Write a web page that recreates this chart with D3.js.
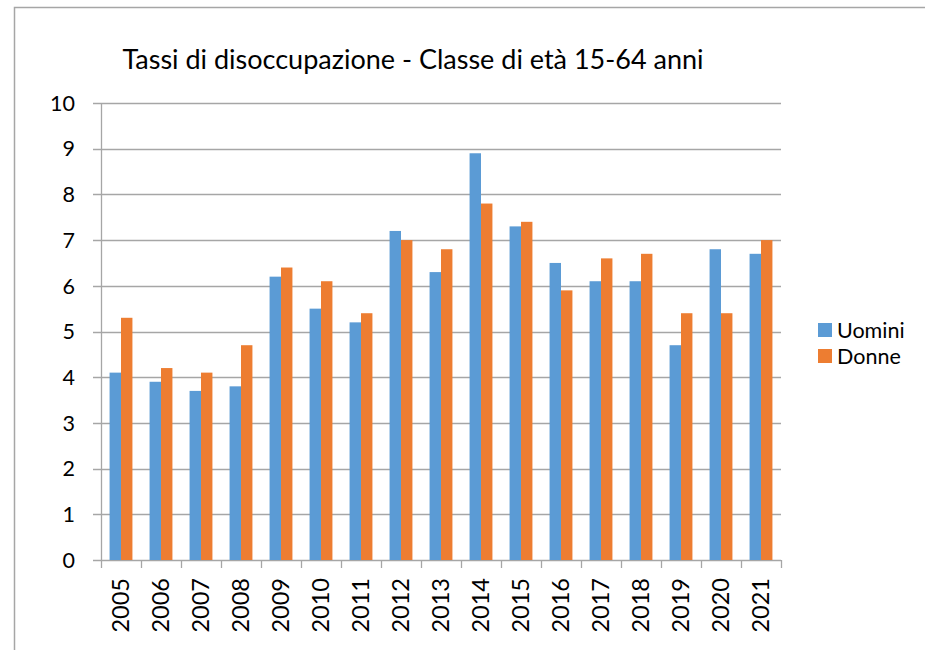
<!DOCTYPE html>
<html>
<head>
<meta charset="utf-8">
<script src="https://cdn.jsdelivr.net/npm/d3@7"></script>
<style>
  body { margin: 0; background: #fff; }
  text { font-family: Lato, "Open Sans", sans-serif; fill: #000; }
</style>
</head>
<body>
<svg id="chart" width="925" height="650"></svg>
<script>
const years = ['2005','2006','2007','2008','2009','2010','2011','2012','2013','2014','2015','2016','2017','2018','2019','2020','2021'];
const uomini = [4.1, 3.9, 3.7, 3.8, 6.2, 5.5, 5.2, 7.2, 6.3, 8.9, 7.3, 6.5, 6.1, 6.1, 4.7, 6.8, 6.7];
const donne  = [5.3, 4.2, 4.1, 4.7, 6.4, 6.1, 5.4, 7.0, 6.8, 7.8, 7.4, 5.9, 6.6, 6.7, 5.4, 5.4, 7.0];
const seriesNames = ['Uomini', 'Donne'];
const yTicks = [0, 1, 2, 3, 4, 5, 6, 7, 8, 9, 10];

const colors = { Uomini: '#5b9bd5', Donne: '#ed7d31' };
const gridColor = '#a6a6a6';

const svg = d3.select('#chart');

// chart frame (only top and left edges show in the picture)
svg.append('path')
  .attr('d', 'M14.5,650 L14.5,7.5 L925,7.5')
  .attr('fill', 'none')
  .attr('stroke', '#a6a6a6')
  .attr('stroke-width', 1.5);

const xScale = d3.scaleBand()
  .domain(years)
  .range([101, 781]);

const inner = d3.scaleBand()
  .domain(seriesNames)
  .range([0, xScale.bandwidth()])
  .paddingOuter(0.75);

const yScale = d3.scaleLinear()
  .domain([0, 10])
  .range([560, 103]);

// gridlines + y ticks
svg.append('g')
  .selectAll('line')
  .data(yTicks)
  .enter()
  .append('line')
  .attr('x1', 93)
  .attr('x2', 781)
  .attr('y1', d => Math.round(yScale(d)) + 0.5)
  .attr('y2', d => Math.round(yScale(d)) + 0.5)
  .attr('stroke', gridColor)
  .attr('stroke-width', 1.3);

svg.append('g')
  .selectAll('text')
  .data(yTicks)
  .enter()
  .append('text')
  .attr('x', 75)
  .attr('y', d => yScale(d))
  .attr('dy', '0.36em')
  .attr('text-anchor', 'end')
  .style('font-size', '21.5px')
  .text(d => d);

// bars
const rows = years.map((y, i) => ({ year: y, Uomini: uomini[i], Donne: donne[i] }));

svg.append('g')
  .selectAll('g')
  .data(rows)
  .enter()
  .append('g')
  .attr('transform', d => `translate(${xScale(d.year)},0)`)
  .selectAll('rect')
  .data(d => seriesNames.map(s => ({ key: s, value: d[s] })))
  .enter()
  .append('rect')
  .attr('x', d => inner(d.key))
  .attr('width', inner.bandwidth())
  .attr('y', d => yScale(d.value))
  .attr('height', d => yScale(0) - yScale(d.value))
  .attr('fill', d => colors[d.key]);

// y axis line
svg.append('line')
  .attr('x1', 101.5).attr('x2', 101.5)
  .attr('y1', 103).attr('y2', 561)
  .attr('stroke', gridColor)
  .attr('stroke-width', 1.3);

// x axis ticks at band edges
const edges = years.map(y => xScale(y)).concat([xScale.range()[1]]);
svg.append('g')
  .selectAll('line')
  .data(edges)
  .enter()
  .append('line')
  .attr('x1', d => Math.round(d) + 0.5)
  .attr('x2', d => Math.round(d) + 0.5)
  .attr('y1', 560)
  .attr('y2', 568)
  .attr('stroke', gridColor)
  .attr('stroke-width', 1.3);

// x labels, rotated
svg.append('g')
  .selectAll('text')
  .data(years)
  .enter()
  .append('text')
  .attr('transform', d => `translate(${xScale(d) + xScale.bandwidth() / 2},578) rotate(-90)`)
  .attr('text-anchor', 'end')
  .attr('dy', '0.36em')
  .style('font-size', '23.5px')
  .text(d => d);

// title
svg.append('text')
  .attr('x', 413)
  .attr('y', 69)
  .attr('text-anchor', 'middle')
  .style('font-size', '27px')
  .text('Tassi di disoccupazione - Classe di età 15-64 anni');

// legend
const legend = svg.append('g')
  .selectAll('g')
  .data(seriesNames)
  .enter()
  .append('g')
  .attr('transform', (d, i) => `translate(818,${330 + i * 26})`);

legend.append('rect')
  .attr('x', 0)
  .attr('y', -7)
  .attr('width', 14)
  .attr('height', 14)
  .attr('fill', d => colors[d]);

legend.append('text')
  .attr('x', 19)
  .attr('y', 0)
  .attr('dy', '0.36em')
  .style('font-size', '21.5px')
  .text(d => d);
</script>
</body>
</html>
